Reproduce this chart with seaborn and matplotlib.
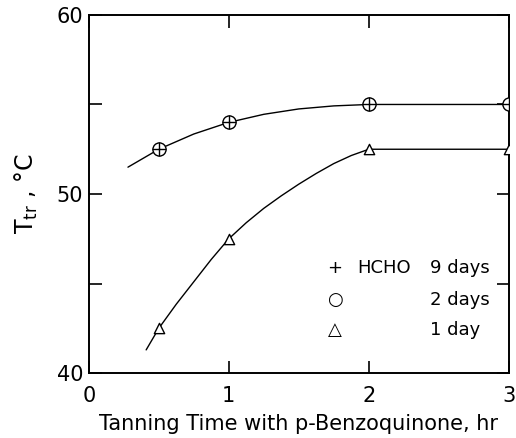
import numpy as np
import matplotlib.pyplot as plt
from matplotlib.ticker import FixedLocator
import seaborn as sns

# Measured points (tanning time in hr, shrinkage temperature in C)
time_hr = [0.5, 1, 2, 3]
t_9days = [52.5, 54.0, 55.0, 55.0]
t_1day = [42.5, 47.5, 52.5, 52.5]

# Hand-drawn trend curves
curve_9_x = [0.28, 0.5, 0.75, 1.0, 1.25, 1.5, 1.75, 2.0, 2.5, 3.0]
curve_9_y = [51.5, 52.5, 53.35, 54.0, 54.45, 54.75, 54.92, 55.0, 55.0, 55.0]
curve_1_x = [0.41, 0.5, 0.625, 0.75, 0.875, 1.0, 1.125, 1.25, 1.375, 1.5,
             1.625, 1.75, 1.875, 2.0, 2.5, 3.0]
curve_1_y = [41.3, 42.5, 43.85, 45.1, 46.35, 47.5, 48.4, 49.2, 49.9, 50.55,
             51.15, 51.7, 52.15, 52.5, 52.5, 52.5]

legend_syms = ["+", "○", "△"]
legend_names = ["HCHO", "", ""]
legend_days = ["9 days", "2 days", "1 day"]

sns.set_style("ticks", {"text.color": "black", "axes.labelcolor": "black",
                        "xtick.color": "black", "ytick.color": "black",
                        "axes.edgecolor": "black"})
plt.rcParams["font.family"] = ["DejaVu Sans"]

fig = plt.figure(figsize=(5.16, 4.38), dpi=100)
ax = fig.add_axes([0.172, 0.148, 0.814, 0.818])

for cx, cy in [(curve_9_x, curve_9_y), (curve_1_x, curve_1_y)]:
    sns.lineplot(x=cx, y=cy, ax=ax, color="black", lw=1.0, sort=False,
                 estimator=None)

# circled-plus markers for the 9-day HCHO series
sns.scatterplot(x=time_hr, y=t_9days, ax=ax, marker="o", s=90,
                facecolor="white", edgecolor="black", linewidth=1.0, zorder=3)
sns.scatterplot(x=time_hr, y=t_9days, ax=ax, marker="+", s=90,
                color="black", linewidth=1.0, zorder=4)
sns.scatterplot(x=time_hr, y=t_1day, ax=ax, marker="^", s=55,
                facecolor="white", edgecolor="black", linewidth=1.0, zorder=3)

ax.set_xlim(0, 3)
ax.set_ylim(40, 60)
ax.set_xticks([0, 1, 2, 3])
ax.set_yticks([40, 50, 60])
ax.yaxis.set_minor_locator(FixedLocator([45, 55]))

for sp in ax.spines.values():
    sp.set_visible(True)
    sp.set_linewidth(1.4)

ax.tick_params(which="both", direction="in", length=9, width=1.2,
               labelsize=15, top=True, right=True, colors="black")
ax.tick_params(axis="x", pad=9)
ax.tick_params(axis="y", pad=4)

ax.set_xlabel("Tanning Time with p-Benzoquinone, hr", fontsize=15, labelpad=6)
ax.set_ylabel(r"T$_{\mathregular{tr}}$ , °C", fontsize=17, labelpad=12)

# legend block as text rows
row_y = [0.293, 0.204, 0.12]
for yy, sym, name, days in zip(row_y, legend_syms, legend_names, legend_days):
    ax.text(0.586, yy, sym, transform=ax.transAxes, fontsize=13,
            ha="center", va="center")
    ax.text(0.64, yy, name, transform=ax.transAxes, fontsize=13,
            ha="left", va="center")
    ax.text(0.813, yy, days, transform=ax.transAxes, fontsize=13,
            ha="left", va="center")

fig.savefig("out.png", dpi=100)
